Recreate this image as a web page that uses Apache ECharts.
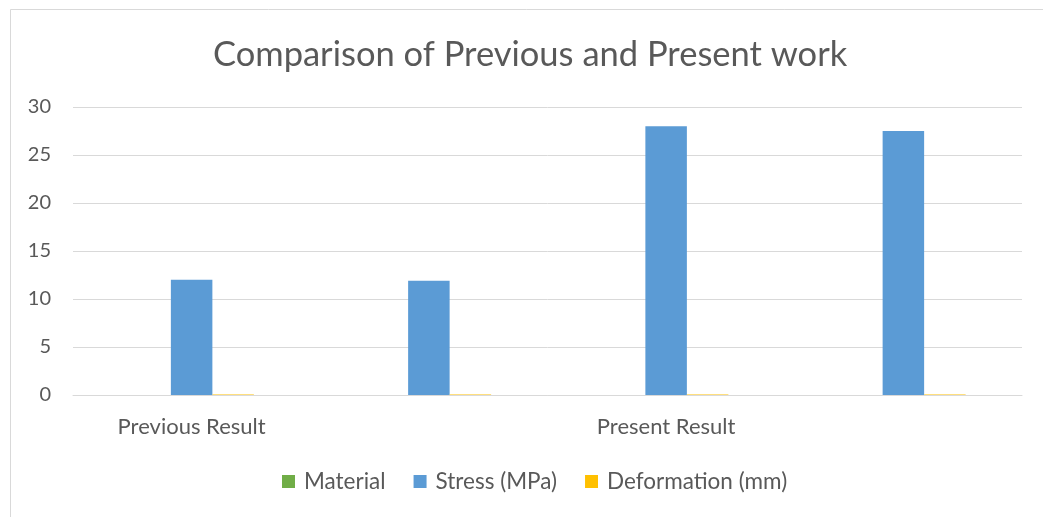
<!DOCTYPE html>
<html><head><meta charset="utf-8">
<script src="https://cdn.jsdelivr.net/npm/echarts@6/dist/echarts.min.js"></script>
<style>html,body{margin:0;padding:0;background:#fff}#c{width:1043px;height:517px}</style>
</head><body><div id="c"></div>
<script>
const categories = ["Previous Result", "", "Present Result", ""];
const material = [0, 0, 0, 0];
const stress = [12.0, 11.9, 28.0, 27.5];
const deformation = [0.05, 0.05, 0.05, 0.05];
const yTicks = { min: 0, max: 30, interval: 5 };

const font = 'Lato, "Open Sans", sans-serif';
const chart = echarts.init(document.getElementById('c'), null, { renderer: 'canvas' });
chart.setOption({
  backgroundColor: '#fff',
  animation: false,
  textStyle: { fontFamily: font },
  title: {
    text: 'Comparison of Previous and Present work',
    left: 213, top: 37, padding: 0,
    textStyle: { fontFamily: font, fontSize: 34.5, fontWeight: 'normal', color: '#595959' }
  },
  graphic: [
    { type: 'polyline', shape: { points: [[10.5, 517], [10.5, 9.5], [1043, 9.5]] },
      style: { stroke: '#d9d9d9', fill: null, lineWidth: 1 } }
  ],
  legend: {
    bottom: 19, left: 277,
    itemWidth: 13, itemHeight: 13, itemGap: 28,
    icon: 'rect',
    textStyle: { fontFamily: font, fontSize: 22.5, color: '#595959', padding: [0, 0, 0, 4] },
    data: ['Material', 'Stress (MPa)', 'Deformation (mm)']
  },
  grid: { left: 73, right: 21, top: 107, bottom: 122 },
  xAxis: {
    type: 'category', data: categories,
    axisLine: { lineStyle: { color: '#d9d9d9', width: 1 } },
    axisTick: { show: false },
    axisLabel: { interval: 0, margin: 21, fontFamily: font, fontSize: 22, color: '#595959' }
  },
  yAxis: {
    type: 'value', min: yTicks.min, max: yTicks.max, interval: yTicks.interval,
    axisLine: { show: false }, axisTick: { show: false },
    axisLabel: { margin: 22, fontFamily: font, fontSize: 20, color: '#595959' },
    splitLine: { lineStyle: { color: '#d9d9d9', width: 1 } }
  },
  series: [
    { name: 'Material', type: 'bar', data: material, barWidth: 41.5, barGap: '0%', itemStyle: { color: '#70ad47' } },
    { name: 'Stress (MPa)', type: 'bar', data: stress, barWidth: 41.5, barGap: '0%', itemStyle: { color: '#5b9bd5' } },
    { name: 'Deformation (mm)', type: 'bar', data: deformation, barWidth: 41.5, barGap: '0%', itemStyle: { color: '#ffc000' } }
  ]
});
</script></body></html>
